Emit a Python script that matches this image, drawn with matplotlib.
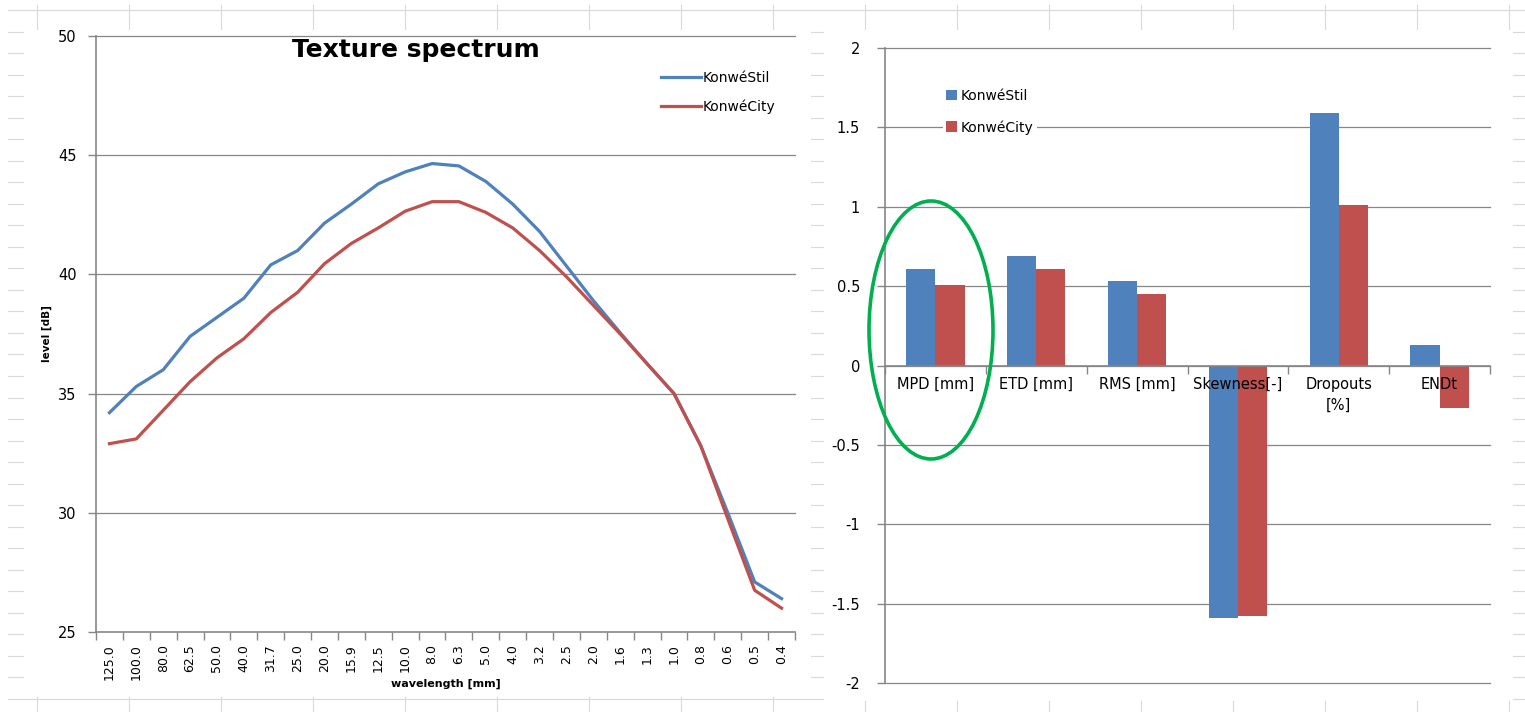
import numpy as np
import matplotlib
matplotlib.use("Agg")
import matplotlib.pyplot as plt
from matplotlib.lines import Line2D
from matplotlib.patches import Rectangle, Ellipse

# wavelength bands of the texture spectrum
wavelengths = ["125.0", "100.0", "80.0", "62.5", "50.0", "40.0", "31.7", "25.0",
               "20.0", "15.9", "12.5", "10.0", "8.0", "6.3", "5.0", "4.0", "3.2",
               "2.5", "2.0", "1.6", "1.3", "1.0", "0.8", "0.6", "0.5", "0.4"]

# texture level per band [dB]
stil_level = [34.2, 35.3, 36.0, 37.4, 38.2, 39.0, 40.4, 41.0, 42.15, 42.95, 43.8,
               44.3, 44.65, 44.55, 43.9, 42.95, 41.8, 40.35, 38.9, 37.55, 36.25,
               35.0, 32.8, 30.0, 27.1, 26.4]
city_level = [32.9, 33.1, 34.3, 35.5, 36.5, 37.3, 38.4, 39.25, 40.45, 41.3, 41.95,
               42.65, 43.05, 43.05, 42.6, 41.95, 41.0, 39.9, 38.7, 37.5, 36.25,
               35.0, 32.8, 29.75, 26.75, 26.0]

# texture parameters
params = ["MPD [mm]", "ETD [mm]", "RMS [mm]", "Skewness[-]", "Dropouts\n[%]", "ENDt"]
stil_params = [0.61, 0.69, 0.53, -1.59, 1.59, 0.13]
city_params = [0.51, 0.61, 0.45, -1.575, 1.01, -0.27]

BLUE = "#4f81bd"
RED = "#c0504d"
GRID = "#868686"
SHEET = "#d9d9d9"

W, H = 1525, 712
fig = plt.figure(figsize=(W / 100, H / 100), dpi=100)


def fx(x):
    return x / W


def fy(y):
    return 1 - y / H


# spreadsheet cells behind the charts
for k in range(33):
    y = 10 + 21.53 * k
    fig.add_artist(Line2D([fx(8), 1], [fy(y), fy(y)], color=SHEET, lw=0.8,
                          transform=fig.transFigure, zorder=-3))
for k in range(17):
    x = 37 + 92 * k
    fig.add_artist(Line2D([fx(x), fx(x)], [fy(5), 0], color=SHEET, lw=0.8,
                          transform=fig.transFigure, zorder=-3))

# chart areas
for x0, y0, x1, y1 in [(24, 30, 811, 697), (824, 30, 1513, 701)]:
    fig.add_artist(Rectangle((fx(x0), fy(y1)), fx(x1 - x0), (y1 - y0) / H,
                             facecolor="white", edgecolor="none",
                             transform=fig.transFigure, zorder=-2))

# ---- left: texture spectrum ----
ax1 = fig.add_axes([fx(96), fy(632), fx(795 - 96), (632 - 36) / H])
x = np.arange(len(wavelengths))
ax1.plot(x, stil_level, color=BLUE, lw=2.3, label="KonwéStil", solid_joinstyle="round")
ax1.plot(x, city_level, color=RED, lw=2.3, label="KonwéCity", solid_joinstyle="round")
ax1.set_xlim(-0.5, len(wavelengths) - 0.5)
ax1.set_ylim(25, 50)
ax1.set_yticks([25, 30, 35, 40, 45, 50])
for lvl in [30, 35, 40, 45, 50]:
    ax1.axhline(lvl, color=GRID, lw=0.9, zorder=0.5, clip_on=False)
ax1.set_xticks(x)
ax1.set_xticklabels(wavelengths, rotation=90, fontsize=9)
ax1.set_xticks(np.arange(-0.5, len(wavelengths)), minor=True)
ax1.tick_params(axis="x", which="major", length=0, pad=9)
ax1.tick_params(axis="x", which="minor", length=6, color=GRID, width=1)
ax1.tick_params(axis="y", length=6, color=GRID, width=1, labelsize=10.5, pad=8)
for s in ["top", "right"]:
    ax1.spines[s].set_visible(False)
for s in ["left", "bottom"]:
    ax1.spines[s].set_color(GRID)
    ax1.spines[s].set_linewidth(1.2)
ax1.set_xlabel("wavelength [mm]", fontsize=8, fontweight="bold", labelpad=-1)
ax1.set_ylabel("level [dB]", fontsize=7.5, fontweight="bold", labelpad=4)
fig.text(fx(416), fy(50), "Texture spectrum", fontsize=18, fontweight="bold",
         ha="center", va="center")
ax1.legend(loc="upper left", bbox_to_anchor=(fx(655 - 96) / fx(699), 1 - 29 / 596),
           frameon=False, fontsize=10, handlelength=2.9, handletextpad=0.15,
           labelspacing=1.05, borderaxespad=0)

# ---- right: texture parameters ----
ax2 = fig.add_axes([fx(885), fy(683), fx(1490 - 885), (683 - 48) / H])
pos = np.arange(len(params))
bw = 0.29
ax2.bar(pos - bw / 2, stil_params, bw, color=BLUE, label="KonwéStil", zorder=2)
ax2.bar(pos + bw / 2, city_params, bw, color=RED, label="KonwéCity", zorder=2)
ax2.set_xlim(-0.5, len(params) - 0.5)
ax2.set_ylim(-2, 2)
ax2.set_yticks(np.arange(-2, 2.01, 0.5))
ax2.set_yticklabels(["-2", "-1.5", "-1", "-0.5", "0", "0.5", "1", "1.5", "2"])
for lvl in np.arange(-2, 2.01, 0.5):
    ax2.axhline(lvl, color=GRID, lw=0.9, zorder=0.5, clip_on=False)
ax2.spines["bottom"].set_position(("data", 0))
ax2.set_xticks(pos)
ax2.set_xticklabels([])
ax2.set_xticks(np.arange(-0.5, len(params)), minor=True)
ax2.tick_params(axis="x", which="major", length=0)
ax2.tick_params(axis="x", which="minor", length=6, color=GRID, width=1)
ax2.tick_params(axis="y", length=6, color=GRID, width=1, labelsize=10.5, pad=12)
for s in ["top", "right"]:
    ax2.spines[s].set_visible(False)
for s in ["left", "bottom"]:
    ax2.spines[s].set_color(GRID)
    ax2.spines[s].set_linewidth(1.2)
for p, name in zip(pos, params):
    ax2.text(p, -0.07, name, ha="center", va="top", fontsize=10.5,
             linespacing=1.5, zorder=5)
leg = ax2.legend(loc="upper left", bbox_to_anchor=(fx(943 - 885) / fx(605), 1 - 38 / 635),
                 frameon=True, fontsize=10, handlelength=0.8, handleheight=0.8,
                 handletextpad=0.3, labelspacing=1.25, borderaxespad=0,
                 borderpad=0.2, fancybox=False)
leg.get_frame().set_edgecolor("none")
leg.get_frame().set_facecolor("white")
leg.get_frame().set_alpha(1)
leg.set_zorder(3)

# highlight around MPD
fig.add_artist(Ellipse((fx(931), fy(330)), fx(124), 258 / H, fill=False,
                       edgecolor="#00b050", lw=2.6, transform=fig.transFigure,
                       zorder=5))

fig.savefig("out.png", dpi=100)
